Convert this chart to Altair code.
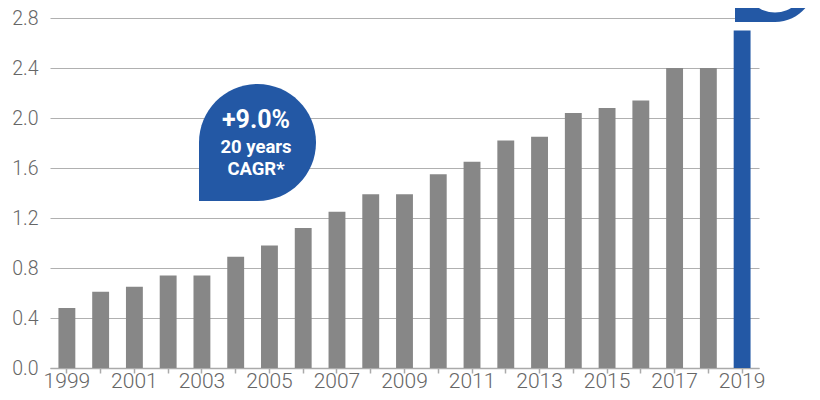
import altair as alt
import pandas as pd

years = [1999, 2000, 2001, 2002, 2003, 2004, 2005, 2006, 2007, 2008, 2009,
         2010, 2011, 2012, 2013, 2014, 2015, 2016, 2017, 2018, 2019]
values = [0.48, 0.61, 0.65, 0.74, 0.74, 0.89, 0.98, 1.12, 1.25, 1.39, 1.39,
          1.55, 1.65, 1.82, 1.85, 2.04, 2.08, 2.14, 2.40, 2.40, 2.70]
y_ticks = [0.0, 0.4, 0.8, 1.2, 1.6, 2.0, 2.4, 2.8]
bubble_lines = ["+9.0%", "20 years", "CAGR*"]
bubble_sizes = [25, 18.5, 18.5]

BLUE = "#2358A5"
GRAY = "#878787"

df = pd.DataFrame({"year": years, "value": values})
one = pd.DataFrame({"k": [0]})
txt = pd.DataFrame({"line": bubble_lines, "size": bubble_sizes, "ypos": [110, 135, 157]})

bars = alt.Chart(df).mark_bar().encode(
    x=alt.X("year:O", title=None,
            scale=alt.Scale(paddingInner=0.5, paddingOuter=0.25, round=False),
            axis=alt.Axis(labelAngle=0, labelExpr="datum.value % 2 == 1 ? datum.label : ''",
                          labelFont="Roboto", labelFontWeight=300, labelFontSize=21,
                          labelColor="#666666", labelPadding=-3,
                          domainColor="#aaaaaa", domainWidth=1.5,
                          tickColor="#aaaaaa", tickSize=5, tickWidth=1.5, grid=False)),
    y=alt.Y("value:Q", title=None,
            scale=alt.Scale(domain=[0, 2.8], nice=False, zero=True),
            axis=alt.Axis(values=y_ticks, format=".1f", labelFont="Roboto",
                          labelFontWeight=300, labelFontSize=19.5, labelColor="#666666",
                          labelPadding=12, ticks=False, domain=False,
                          gridColor="#b0b0b0", gridWidth=1.2)),
    color=alt.condition(alt.datum.year == 2019, alt.value(BLUE), alt.value(GRAY)),
)

bubble = alt.Chart(one).mark_rect(
    color=BLUE, cornerRadiusTopLeft=58.5, cornerRadiusTopRight=58.5,
    cornerRadiusBottomRight=58.5, cornerRadiusBottomLeft=0
).encode(x=alt.value(149), x2=alt.value(266), y=alt.value(66), y2=alt.value(183))

bubble_text = alt.Chart(txt).mark_text(
    font="Roboto", fontWeight="bold", color="white", align="center", baseline="alphabetic"
).encode(x=alt.value(206), y=alt.Y("ypos:Q", scale=None), text="line:N",
         size=alt.Size("size:Q", scale=None, legend=None))

ring_outer = alt.Chart(one).mark_rect(
    color=BLUE, cornerRadiusTopLeft=40, cornerRadiusTopRight=40,
    cornerRadiusBottomRight=40, cornerRadiusBottomLeft=0
).encode(x=alt.value(685), x2=alt.value(765), y=alt.value(-76), y2=alt.value(4))

ring_inner = alt.Chart(one).mark_circle(color="white", opacity=1, size=3739).encode(
    x=alt.value(725), y=alt.value(-36))

chart = alt.layer(bars, bubble, bubble_text, ring_outer, ring_inner).properties(
    width=709, height=350,
    autosize=alt.AutoSizeParams(type="none"),
    padding={"left": 42, "top": 10, "right": 53, "bottom": 24},
).configure_view(stroke=None)

chart.save("out.html", embed_options={"renderer": "svg", "actions": False})
